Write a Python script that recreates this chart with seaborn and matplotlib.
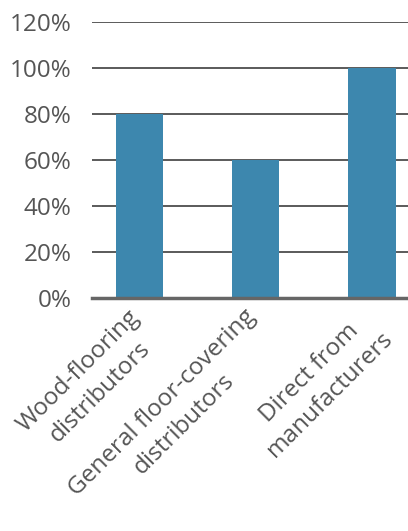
import matplotlib
matplotlib.use("Agg")
import matplotlib.pyplot as plt
import matplotlib.transforms as mtransforms
import seaborn as sns
import pandas as pd

categories = ["Wood-flooring\ndistributors",
              "General floor-covering\ndistributors",
              "Direct from\nmanufacturers"]
values = [80, 60, 100]
yticks = [0, 20, 40, 60, 80, 100, 120]
ytick_labels = ["0%", "20%", "40%", "60%", "80%", "100%", "120%"]

sns.set_style("white")
plt.rcParams["font.family"] = ["Open Sans", "DejaVu Sans"]

df = pd.DataFrame({"cat": categories, "val": values})

fig = plt.figure(figsize=(4.08, 5.31), dpi=100)
ax = fig.add_axes([0.2255, 0.4388, 0.7745, 0.5198])

sns.barplot(data=df, x="cat", y="val", color="#3d87ae", saturation=1,
            width=0.405, ax=ax, zorder=3, linewidth=0)

ax.set_ylim(0, 120)
ax.set_xlim(-0.41, 2.31)
ax.set_yticks(yticks)
ax.set_yticklabels(ytick_labels, fontsize=17.5, color="#555555")
ax.yaxis.grid(True, color="#4d4d4d", linewidth=1.3, zorder=0)
ax.set_axisbelow(True)
ax.tick_params(axis="y", length=0, pad=14.5)
ax.tick_params(axis="x", length=0, pad=5)
for s in ["top", "right", "left"]:
    ax.spines[s].set_visible(False)
ax.spines["bottom"].set_color("#666666")
ax.spines["bottom"].set_linewidth(2.5)
ax.spines["bottom"].set_zorder(4)

ax.set_xticks(range(len(categories)))
ax.set_xticklabels(categories, rotation=45, ha="right",
                   rotation_mode="anchor", fontsize=17.5, color="#555555",
                   multialignment="center", linespacing=1.35)
offset = mtransforms.ScaledTranslation(-0.12, 0, fig.dpi_scale_trans)
for lbl in ax.get_xticklabels():
    lbl.set_transform(lbl.get_transform() + offset)
ax.set_xlabel("")
ax.set_ylabel("")

fig.savefig("out.png", dpi=100)
